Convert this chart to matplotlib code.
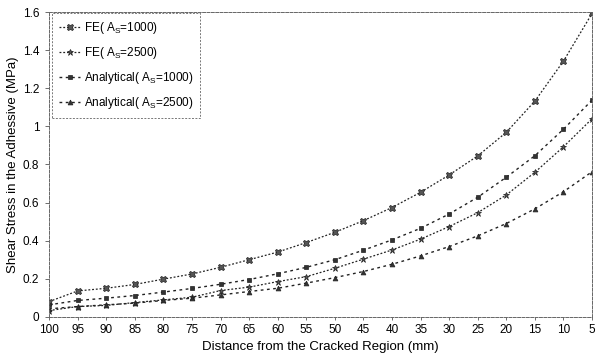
import matplotlib.pyplot as plt
import numpy as np

plt.rcParams['font.family'] = ['Liberation Sans', 'DejaVu Sans']

distance = [100, 95, 90, 85, 80, 75, 70, 65, 60, 55, 50, 45, 40, 35, 30, 25, 20, 15, 10, 5]

fe_1000 = [0.08, 0.136, 0.15, 0.17, 0.198, 0.225, 0.26, 0.30, 0.34, 0.39, 0.444, 0.505,
           0.574, 0.654, 0.745, 0.845, 0.969, 1.133, 1.343, 1.593]
fe_2500 = [0.033, 0.054, 0.06, 0.075, 0.089, 0.103, 0.138, 0.156, 0.185, 0.211, 0.255, 0.303,
           0.351, 0.408, 0.474, 0.547, 0.64, 0.759, 0.893, 1.04]
an_1000 = [0.063, 0.086, 0.098, 0.112, 0.13, 0.149, 0.171, 0.196, 0.226, 0.26, 0.30, 0.35,
           0.404, 0.465, 0.54, 0.628, 0.733, 0.846, 0.985, 1.138]
an_2500 = [0.042, 0.054, 0.063, 0.072, 0.086, 0.098, 0.115, 0.133, 0.15, 0.177, 0.206, 0.238,
           0.276, 0.32, 0.369, 0.425, 0.49, 0.567, 0.657, 0.762]

fig = plt.figure(figsize=(6.06, 3.56), dpi=100)
ax = fig.add_axes([0.081, 0.110, 0.896, 0.856])

c = '#222222'
ax.plot(distance, fe_1000, color=c, lw=0.9, ls=(0, (1.5, 1.5)), marker='X', ms=4.5,
        mfc='#555555', mec=c, mew=0.5, label='FE( A$_\\mathregular{S}$=1000)')
ax.plot(distance, fe_2500, color=c, lw=0.9, ls=(0, (1.5, 1.5)), marker='*', ms=5,
        mfc='#555555', mec=c, mew=0.5, label='FE( A$_\\mathregular{S}$=2500)')
ax.plot(distance, an_1000, color=c, lw=1.0, ls=(0, (2, 2.5)), marker='s', ms=3.5,
        mfc='#333333', mec=c, mew=0.5, label='Analytical( A$_\\mathregular{S}$=1000)')
ax.plot(distance, an_2500, color=c, lw=1.0, ls=(0, (2, 2.5)), marker='^', ms=3.5,
        mfc='#333333', mec=c, mew=0.5, label='Analytical( A$_\\mathregular{S}$=2500)')

ax.set_xlim(100, 5)
ax.set_ylim(0, 1.6)
ax.set_xticks(distance)
ax.set_xticklabels([str(d) for d in distance], fontsize=8.5)
yt = [0, 0.2, 0.4, 0.6, 0.8, 1.0, 1.2, 1.4, 1.6]
ax.set_yticks(yt)
ax.set_yticklabels(['0', '0.2', '0.4', '0.6', '0.8', '1', '1.2', '1.4', '1.6'], fontsize=8.5)
ax.tick_params(axis='x', length=2, width=0.6, color='#555555', pad=3)
ax.tick_params(axis='y', length=3, width=0.6, color='#555555', pad=4)

for s in ax.spines.values():
    s.set_linestyle((0, (3, 1.5)))
    s.set_linewidth(0.7)
    s.set_color('#666666')

ax.set_xlabel('Distance from the Cracked Region (mm)', fontsize=9.5, labelpad=4)
ax.set_ylabel('Shear Stress in the Adhessive (MPa)', fontsize=9.5, labelpad=3)

leg = ax.legend(loc='upper left', bbox_to_anchor=(0.005, 0.997), borderaxespad=0,
                fontsize=8.5, frameon=True, fancybox=False, handlelength=1.8,
                handletextpad=0.3, labelspacing=0.75, borderpad=0.6)
leg.get_frame().set_edgecolor('#555555')
leg.get_frame().set_linestyle((0, (2, 1.5)))
leg.get_frame().set_linewidth(0.7)

fig.savefig('out.png', dpi=100)
